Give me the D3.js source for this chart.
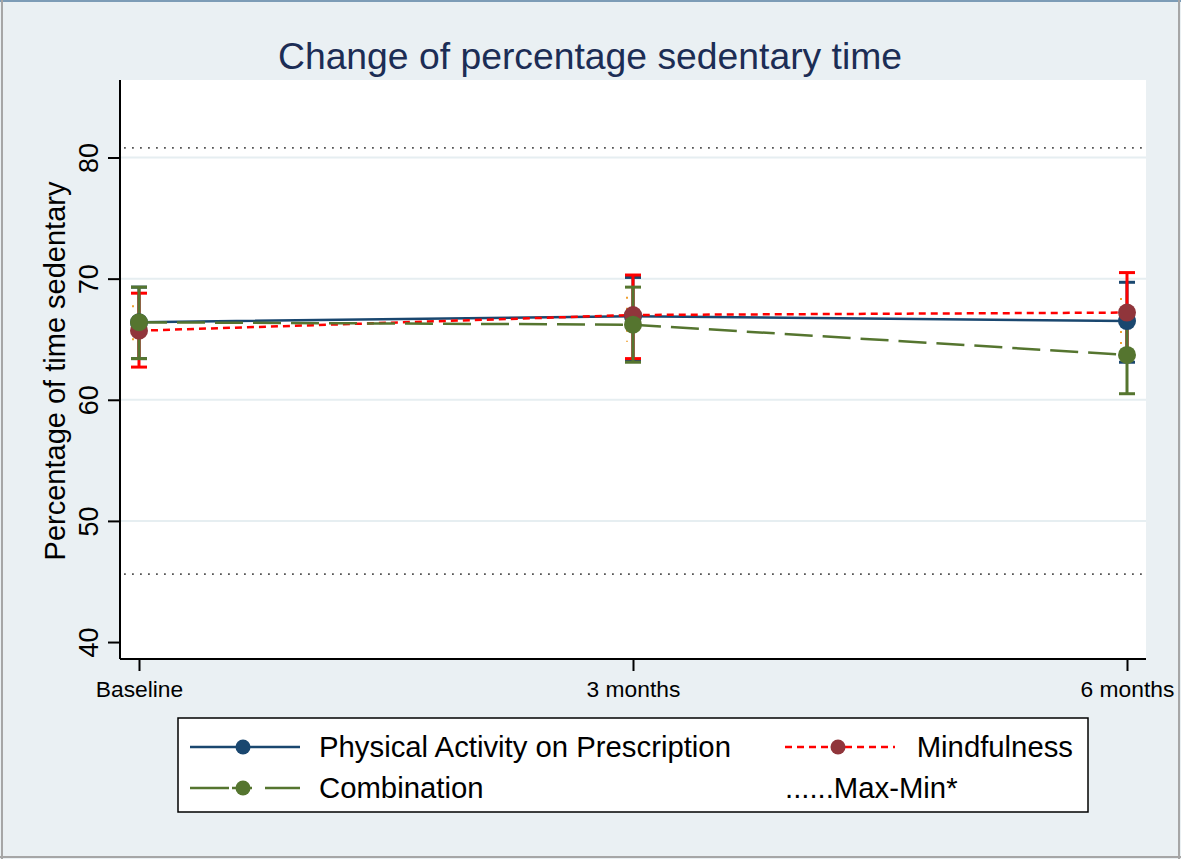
<!DOCTYPE html>
<html>
<head>
<meta charset="utf-8">
<script src="https://cdn.jsdelivr.net/npm/d3@7"></script>
<style>
  body { margin: 0; background: #fff; }
  svg { display: block; font-family: "Liberation Sans", Arial, sans-serif; }
</style>
</head>
<body>
<div class="container"></div>
<script>
  // time points
  var timePoints = ["Baseline", "3 months", "6 months"];
  var yTicks = [40, 50, 60, 70, 80];

  // Physical Activity on Prescription
  var papMean = [66.4, 66.9, 66.5];
  var papLow = [63.4, 63.3, 63.1];
  var papHigh = [69.3, 70.1, 69.7];

  // Mindfulness
  var mindMean = [65.7, 67.0, 67.2];
  var mindLow = [62.7, 63.4, 63.9];
  var mindHigh = [68.8, 70.3, 70.5];

  // Combination
  var comboMean = [66.4, 66.2, 63.7];
  var comboLow = [63.4, 63.1, 60.5];
  var comboHigh = [69.3, 69.3, 66.9];

  // faint orange range marks
  var orangeLow = [64.4, 64.8, 64.6];
  var orangeHigh = [67.8, 68.5, 68.4];

  // Max-Min reference lines
  var maxMin = [80.8, 45.6];

  var w = 1181, h = 859;
  var pLeft = 120, pRight = 1146, pTop = 80, pBottom = 659;

  var svg = d3.select(".container").append("svg").attr("width", w).attr("height", h);

  // outer frame
  svg.append("rect").attr("x", 0).attr("y", 0).attr("width", w).attr("height", h).attr("fill", "#eaf0f3");
  svg.append("line").attr("x1", 0).attr("x2", w).attr("y1", 1).attr("y2", 1).attr("stroke", "#7d9cb6").attr("stroke-width", 2);
  svg.append("line").attr("x1", 2).attr("x2", 2).attr("y1", 0).attr("y2", h).attr("stroke", "#a6a6a6").attr("stroke-width", 2);
  svg.append("line").attr("x1", w - 2).attr("x2", w - 2).attr("y1", 0).attr("y2", h).attr("stroke", "#a6a6a6").attr("stroke-width", 2);
  svg.append("line").attr("x1", 0).attr("x2", w).attr("y1", h - 2).attr("y2", h - 2).attr("stroke", "#a6a6a6").attr("stroke-width", 2);

  // plot area
  svg.append("rect").attr("x", pLeft).attr("y", pTop).attr("width", pRight - pLeft).attr("height", pBottom - pTop).attr("fill", "#fff");

  var x = d3.scalePoint().domain(timePoints).range([139, 1127]);
  var y = d3.scaleLinear().domain([38.6, 86.4]).range([pBottom, pTop]);

  // grid
  svg.append("g").selectAll("line").data(yTicks.slice(1)).enter().append("line")
    .attr("x1", pLeft).attr("x2", pRight)
    .attr("y1", function(d){ return y(d); }).attr("y2", function(d){ return y(d); })
    .attr("stroke", "#e6eef1").attr("stroke-width", 2);

  // max-min lines
  svg.append("g").selectAll("line").data(maxMin).enter().append("line")
    .attr("x1", pLeft + 4).attr("x2", pRight)
    .attr("y1", function(d){ return y(d); }).attr("y2", function(d){ return y(d); })
    .attr("stroke", "#555").attr("stroke-width", 1.8).attr("stroke-dasharray", "1.8,6.2");

  // axes
  var yAxis = svg.append("g").attr("transform", "translate(" + pLeft + ",0)")
    .call(d3.axisLeft(y).tickValues(yTicks).tickSize(12));
  yAxis.select(".domain").attr("d", "M0," + pTop + "V" + pBottom).attr("stroke", "#000").attr("stroke-width", 2);
  yAxis.selectAll(".tick line").attr("stroke", "#000").attr("stroke-width", 2);
  yAxis.selectAll(".tick text")
    .attr("font-size", 27).attr("fill", "#000").attr("font-family", "Liberation Sans, Arial, sans-serif")
    .attr("text-anchor", "middle").attr("x", 0).attr("y", 0).attr("dy", 0)
    .attr("transform", "translate(-22,0) rotate(-90)");

  var xAxis = svg.append("g").attr("transform", "translate(0," + pBottom + ")")
    .call(d3.axisBottom(x).tickSize(12).tickPadding(10));
  xAxis.select(".domain").attr("d", "M" + pLeft + ",0H" + pRight).attr("stroke", "#000").attr("stroke-width", 2);
  xAxis.selectAll(".tick line").attr("stroke", "#000").attr("stroke-width", 2);
  xAxis.selectAll(".tick text").attr("font-size", 22.8).attr("fill", "#000").attr("font-family", "Liberation Sans, Arial, sans-serif");

  // titles
  svg.append("text").attr("x", 590).attr("y", 69).attr("text-anchor", "middle")
    .attr("font-size", 37.3).attr("fill", "#1c2d55").text("Change of percentage sedentary time");
  svg.append("text").attr("transform", "translate(65,371) rotate(-90)").attr("text-anchor", "middle")
    .attr("font-size", 29).attr("fill", "#000").text("Percentage of time sedentary");

  var series = [
    { mean: papMean, low: papLow, high: papHigh, line: "#1a476f", bar: "#1a476f", marker: "#1a476f", dash: null, legendDash: null },
    { mean: mindMean, low: mindLow, high: mindHigh, line: "#ff0000", bar: "#ff0000", marker: "#90353b", dash: "7,5", legendDash: "7,5" },
    { mean: comboMean, low: comboLow, high: comboHigh, line: "#55752f", bar: "#55752f", marker: "#55752f", dash: "28,10", legendDash: "39,3,20,13,40" }
  ];

  // error bars
  series.forEach(function(s){
    var g = svg.append("g");
    timePoints.forEach(function(t, i){
      var cx = x(t);
      g.append("line").attr("x1", cx).attr("x2", cx).attr("y1", y(s.low[i])).attr("y2", y(s.high[i]))
        .attr("stroke", s.bar).attr("stroke-width", 3);
      [s.low[i], s.high[i]].forEach(function(v){
        g.append("line").attr("x1", cx - 8).attr("x2", cx + 8).attr("y1", y(v)).attr("y2", y(v))
          .attr("stroke", s.bar).attr("stroke-width", 3);
      });
    });
  });

  // orange dotted range
  svg.append("g").selectAll("line").data(timePoints).enter().append("line")
    .attr("x1", function(d){ return x(d) - 6; }).attr("x2", function(d){ return x(d) - 6; })
    .attr("y1", function(d, i){ return y(orangeHigh[i]); }).attr("y2", function(d, i){ return y(orangeLow[i]); })
    .attr("stroke", "#f0a030").attr("stroke-width", 2).attr("stroke-dasharray", "2,9");

  // lines
  var line = d3.line().x(function(d, i){ return x(timePoints[i]); }).y(function(d){ return y(d); });
  series.forEach(function(s){
    svg.append("path").datum(s.mean).attr("d", line).attr("fill", "none")
      .attr("stroke", s.line).attr("stroke-width", 2.5).attr("stroke-dasharray", s.dash);
  });

  // markers
  series.forEach(function(s){
    svg.append("g").selectAll("circle").data(s.mean).enter().append("circle")
      .attr("cx", function(d, i){ return x(timePoints[i]); }).attr("cy", function(d){ return y(d); })
      .attr("r", 9).attr("fill", s.marker);
  });

  // legend
  var lg = svg.append("g");
  lg.append("rect").attr("x", 178).attr("y", 718).attr("width", 910).attr("height", 94)
    .attr("fill", "#fff").attr("stroke", "#000").attr("stroke-width", 1.5);

  var legendItems = [
    { label: "Physical Activity on Prescription", s: series[0], lx: 190, ly: 747, tx: 319, anchor: "start" },
    { label: "Mindfulness", s: series[1], lx: 785, ly: 747, tx: 1073, anchor: "end" },
    { label: "Combination", s: series[2], lx: 190, ly: 788, tx: 319, anchor: "start" }
  ];
  legendItems.forEach(function(it){
    lg.append("line").attr("x1", it.lx).attr("x2", it.lx + 110).attr("y1", it.ly).attr("y2", it.ly)
      .attr("stroke", it.s.line).attr("stroke-width", 2.5).attr("stroke-dasharray", it.s.legendDash);
    lg.append("circle").attr("cx", it.lx + 53).attr("cy", it.ly).attr("r", 7.5).attr("fill", it.s.marker);
    lg.append("text").attr("x", it.tx).attr("y", it.ly + 10).attr("text-anchor", it.anchor)
      .attr("font-size", 29.3).attr("fill", "#000").text(it.label);
  });
  lg.append("text").attr("x", 785).attr("y", 798).attr("font-size", 29.3).attr("fill", "#000").text("......Max-Min*");
</script>
</body>
</html>
